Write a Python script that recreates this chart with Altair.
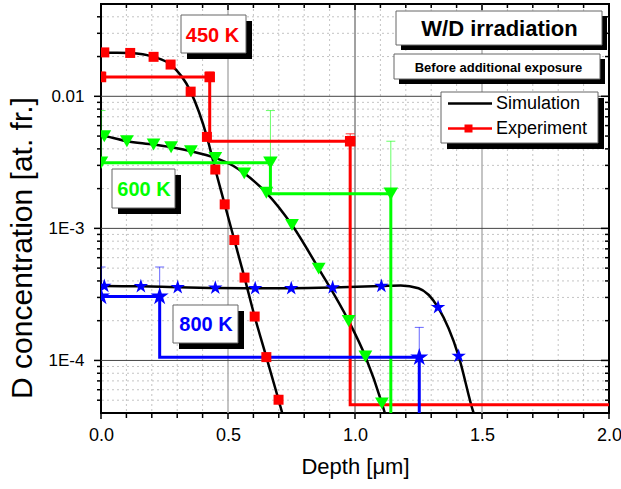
import altair as alt
import pandas as pd

FONT = "Liberation Sans, Arial, sans-serif"
W, H = 508, 409
PL, PT = 101, 4

# ---------------- data ----------------
# simulation curves (black lines)
sim450_x = [0.0, 0.013, 0.115, 0.207, 0.274, 0.353, 0.417, 0.45, 0.487, 0.525, 0.565, 0.605, 0.651, 0.699, 0.72]
sim450_y = [0.0218, 0.0215, 0.0213, 0.0199, 0.0174, 0.01085, 0.00493, 0.00279, 0.00152, 0.000816, 0.000424, 0.000215, 0.000106, 5.04e-5, 3.6e-5]
sim600_x = [0.0, 0.013, 0.102, 0.207, 0.276, 0.354, 0.45, 0.52, 0.564, 0.651, 0.752, 0.857, 0.975, 1.041, 1.106, 1.13]
sim600_y = [0.00500, 0.00498, 0.00457, 0.00431, 0.00411, 0.00384, 0.00342, 0.00298, 0.00261, 0.00186, 0.00106, 0.000496, 0.000199, 0.000107, 4.73e-5, 3.3e-5]
sim800_x = [0.0, 0.013, 0.157, 0.302, 0.45, 0.607, 0.749, 0.912, 1.104, 1.18, 1.25, 1.327, 1.408, 1.467, 1.48]
sim800_y = [0.000372, 0.000366, 0.000364, 0.000358, 0.000354, 0.000352, 0.000352, 0.000356, 0.000366, 0.000370, 0.000352, 0.000252, 0.000108, 4.0e-5, 3.4e-5]

# markers on simulation curves
mk450_x = [0.013, 0.115, 0.207, 0.274, 0.353, 0.417, 0.45, 0.487, 0.525, 0.565, 0.605, 0.651, 0.699]
mk450_y = [0.0215, 0.0213, 0.0199, 0.0174, 0.01085, 0.00493, 0.00279, 0.00152, 0.000816, 0.000424, 0.000215, 0.000106, 5.04e-5]
mk600_x = [0.013, 0.102, 0.207, 0.276, 0.354, 0.45, 0.564, 0.651, 0.752, 0.857, 0.975, 1.041, 1.106]
mk600_y = [0.00498, 0.00457, 0.00431, 0.00411, 0.00384, 0.00342, 0.00261, 0.00186, 0.00106, 0.000496, 0.000199, 0.000107, 4.73e-5]
mk800_x = [0.013, 0.157, 0.302, 0.45, 0.607, 0.749, 0.912, 1.104, 1.327, 1.408]
mk800_y = [0.000366, 0.000364, 0.000358, 0.000354, 0.000352, 0.000352, 0.000356, 0.000366, 0.000252, 0.000108]

# experiment step profiles
exp450_x = [0.0, 0.428, 0.428, 0.981, 0.981, 2.0]
exp450_y = [0.0140, 0.0140, 0.00457, 0.00457, 4.62e-5, 4.62e-5]
exp600_x = [0.0, 0.667, 0.667, 1.141, 1.141]
exp600_y = [0.00314, 0.00314, 0.00183, 0.00183, 2.0e-5]
exp800_x = [0.0, 0.231, 0.231, 1.253, 1.253]
exp800_y = [0.000305, 0.000305, 0.0001055, 0.0001055, 2.0e-5]

# experiment points and upper error bars
pt450_x = [0.0, 0.428, 0.981]
pt450_y = [0.0140, 0.0140, 0.00457]
pt450_e = [0.0153, 0.0153, 0.0052]
pt600_x = [0.0, 0.667, 1.141]
pt600_y = [0.00314, 0.00314, 0.00183]
pt600_e = [0.0078, 0.0078, 0.00457]
pt800_x = [0.0, 0.231, 1.253]
pt800_y = [0.000305, 0.000305, 0.0001055]
pt800_e = [0.00051, 0.00051, 0.000178]

# axes / grid
x_labels = [0.0, 0.5, 1.0, 1.5, 2.0]
x_minor = [0.1, 0.2, 0.3, 0.4, 0.6, 0.7, 0.8, 0.9, 1.1, 1.2, 1.3, 1.4, 1.6, 1.7, 1.8, 1.9]
y_major = [0.01, 0.001, 0.0001]
y_minor = [5e-5, 6e-5, 7e-5, 8e-5, 9e-5,
           2e-4, 3e-4, 4e-4, 5e-4, 6e-4, 7e-4, 8e-4, 9e-4,
           2e-3, 3e-3, 4e-3, 5e-3, 6e-3, 7e-3, 8e-3, 9e-3,
           2e-2, 3e-2, 4e-2]

RED, GREEN, BLUE = "#ff0000", "#00ff00", "#0000ff"
STAR = ("M0,-1L0.2245,-0.309L0.9511,-0.309L0.3633,0.118L0.5878,0.809L0,0.382"
        "L-0.5878,0.809L-0.3633,0.118L-0.9511,-0.309L-0.2245,-0.309Z")

# ---------------- scales ----------------
xscale = alt.Scale(domain=[0, 2], nice=False, zero=False, padding=0)
yscale = alt.Scale(type="log", domain=[4e-5, 0.05], nice=False, padding=0)
xaxis = alt.Axis(values=x_labels, format=".1f", labelFontSize=18, labelFont=FONT,
                 labelColor="black", ticks=False, domain=False, grid=False,
                 labelPadding=13, labelFlush=False, labelOverlap=False, title=None)
yaxis = alt.Axis(values=y_major,
                 labelExpr="datum.value > 0.005 ? '0.01' : (datum.value > 0.0005 ? '1E-3' : '1E-4')",
                 labelFontSize=17, labelFont=FONT, labelColor="black", ticks=False,
                 domain=False, grid=False, labelPadding=17, labelFlush=False, title=None)


def X(f="x"):
    return alt.X(f + ":Q", scale=xscale, axis=xaxis)


def Y(f="y"):
    return alt.Y(f + ":Q", scale=yscale, axis=yaxis)


def df(xs, ys):
    return pd.DataFrame({"x": xs, "y": ys, "i": list(range(len(xs)))})


layers = []

# grid
layers.append(alt.Chart(pd.DataFrame({"y": y_minor})).mark_rule(
    color="#c4c4c4", strokeWidth=1, strokeDash=[2, 3]).encode(y=Y()))
layers.append(alt.Chart(pd.DataFrame({"x": x_minor})).mark_rule(
    color="#c4c4c4", strokeWidth=1, strokeDash=[2, 3]).encode(x=X()))
layers.append(alt.Chart(pd.DataFrame({"x": [0.5, 1.5]})).mark_rule(
    color="#b0b0b0", strokeWidth=1.5).encode(x=X()))
layers.append(alt.Chart(pd.DataFrame({"x": [1.0]})).mark_rule(
    color="#444444", strokeWidth=1).encode(x=X()))
layers.append(alt.Chart(pd.DataFrame({"y": y_major})).mark_rule(
    color="#444444", strokeWidth=1).encode(y=Y()))

# ticks
ymaj = pd.DataFrame({"y": y_major})
ymin = pd.DataFrame({"y": y_minor})
layers.append(alt.Chart(ymaj).mark_rule(color="black", strokeWidth=1.5).encode(
    y=Y(), x=alt.value(-7), x2=alt.value(0)))
layers.append(alt.Chart(ymin).mark_rule(color="black", strokeWidth=1.5).encode(
    y=Y(), x=alt.value(-4), x2=alt.value(0)))
layers.append(alt.Chart(ymaj).mark_rule(color="black", strokeWidth=1.5).encode(
    y=Y(), x=alt.value(W - 8), x2=alt.value(W)))
layers.append(alt.Chart(ymin).mark_rule(color="black", strokeWidth=1.5).encode(
    y=Y(), x=alt.value(W - 4), x2=alt.value(W)))
xmaj = pd.DataFrame({"x": x_labels})
xmin = pd.DataFrame({"x": x_minor})
layers.append(alt.Chart(xmaj).mark_rule(color="black", strokeWidth=1.5).encode(
    x=X(), y=alt.value(H), y2=alt.value(H + 6)))
layers.append(alt.Chart(xmin).mark_rule(color="black", strokeWidth=1.5).encode(
    x=X(), y=alt.value(H), y2=alt.value(H + 5)))
layers.append(alt.Chart(xmaj).mark_rule(color="black", strokeWidth=1.5).encode(
    x=X(), y=alt.value(0), y2=alt.value(6)))
layers.append(alt.Chart(xmin).mark_rule(color="black", strokeWidth=1.5).encode(
    x=X(), y=alt.value(0), y2=alt.value(4)))

# error bars
for xs, ys, es, col, op in [(pt450_x, pt450_y, pt450_e, RED, 0.8),
                            (pt600_x, pt600_y, pt600_e, GREEN, 0.6),
                            (pt800_x, pt800_y, pt800_e, BLUE, 0.6)]:
    d = pd.DataFrame({"x": xs, "y": ys, "e": es})
    layers.append(alt.Chart(d).mark_rule(color=col, strokeWidth=1, opacity=op, clip=True).encode(
        x=X(), y=Y(), y2="e:Q"))
    layers.append(alt.Chart(d).mark_tick(color=col, orient="horizontal", size=9, thickness=1,
                                         opacity=op, clip=True).encode(x=X(), y=Y("e")))

# simulation curves
for xs, ys in [(sim450_x, sim450_y), (sim600_x, sim600_y), (sim800_x, sim800_y)]:
    layers.append(alt.Chart(df(xs, ys)).mark_line(
        color="black", strokeWidth=2.5, clip=True, interpolate="monotone").encode(
        x=X(), y=Y(), order="i:Q"))

# experiment steps
for xs, ys, col in [(exp450_x, exp450_y, RED), (exp600_x, exp600_y, GREEN), (exp800_x, exp800_y, BLUE)]:
    layers.append(alt.Chart(df(xs, ys)).mark_line(
        color=col, strokeWidth=3, clip=True).encode(x=X(), y=Y(), order="i:Q"))

# markers
layers.append(alt.Chart(df(mk450_x, mk450_y)).mark_point(
    shape="square", filled=True, size=100, color=RED, opacity=1, clip=True).encode(x=X(), y=Y()))
layers.append(alt.Chart(df(mk600_x, mk600_y)).mark_point(
    shape="triangle-down", filled=True, size=190, color=GREEN, opacity=1, clip=True).encode(x=X(), y=Y()))
layers.append(alt.Chart(df(mk800_x, mk800_y)).mark_point(
    shape=STAR, filled=True, size=230, color=BLUE, opacity=1, clip=True).encode(x=X(), y=Y()))
layers.append(alt.Chart(df(pt450_x, pt450_y)).mark_point(
    shape="square", filled=True, size=110, color=RED, opacity=1, clip=True).encode(x=X(), y=Y()))
layers.append(alt.Chart(df(pt600_x, pt600_y)).mark_point(
    shape="triangle-down", filled=True, size=210, color=GREEN, opacity=1, clip=True).encode(x=X(), y=Y()))
layers.append(alt.Chart(df(pt800_x, pt800_y)).mark_point(
    shape=STAR, filled=True, size=360, color=BLUE, opacity=1, clip=True).encode(x=X(), y=Y()))

# annotation boxes
one = pd.DataFrame({"k": [0]})


def box(x1, y1, x2, y2, sh=6):
    x1, x2, y1, y2 = x1 - PL, x2 - PL, y1 - PT, y2 - PT
    return [
        alt.Chart(one).mark_rect(color="black").encode(
            x=alt.value(x1 + sh), x2=alt.value(x2 + sh), y=alt.value(y1 + sh), y2=alt.value(y2 + sh)),
        alt.Chart(one).mark_rect(fill="white", stroke="#666666", strokeWidth=1).encode(
            x=alt.value(x1), x2=alt.value(x2), y=alt.value(y1), y2=alt.value(y2)),
    ]


def label(x, y, text, color="black", size=18, weight="bold", align="center", angle=0):
    return alt.Chart(one).mark_text(
        font=FONT, fontSize=size, fontWeight=weight, color=color, align=align,
        baseline="middle", angle=angle).encode(
        x=alt.value(x - PL), y=alt.value(y - PT), text=alt.value(text))


layers += box(181, 15, 246, 53)
layers.append(label(212.5, 36, "450 K", RED, 20))
layers += box(112, 169, 175, 208)
layers.append(label(144, 190, "600 K", GREEN, 20))
layers += box(173, 305, 238, 343)
layers.append(label(206, 325, "800 K", BLUE, 20))
layers += box(396, 11, 602, 45, 5)
layers.append(label(499.5, 28.5, "W/D irradiation", "black", 22))
layers += box(394, 54, 600, 79, 5)
layers.append(label(498.5, 68, "Before additional exposure", "black", 13))

# legend
layers += box(441, 92, 598, 143, 6)
layers.append(alt.Chart(one).mark_rule(color="black", strokeWidth=2.5).encode(
    x=alt.value(448 - PL), x2=alt.value(492 - PL), y=alt.value(103.5 - PT)))
layers.append(label(496, 104, "Simulation", "black", 18, "normal", "left"))
layers.append(alt.Chart(one).mark_rule(color=RED, strokeWidth=2.5).encode(
    x=alt.value(448 - PL), x2=alt.value(492 - PL), y=alt.value(128.5 - PT)))
layers.append(alt.Chart(one).mark_point(shape="square", filled=True, size=64, color=RED, opacity=1).encode(
    x=alt.value(468.5 - PL), y=alt.value(128.5 - PT)))
layers.append(label(496, 128.5, "Experiment", "black", 18, "normal", "left"))

# axis titles
layers.append(label(23, 248, "D concentration [at. fr.]", "black", 30, "normal", "center", 270))
layers.append(label(355.5, 467, "Depth [\u03bcm]", "black", 22, "normal", "center"))

chart = alt.layer(*layers).properties(
    width=W, height=H,
    padding={"left": PL, "top": PT, "right": 621 - PL - W, "bottom": 489 - PT - H},
    autosize=alt.AutoSizeParams(type="none"),
).configure_view(stroke="black", strokeWidth=2)

chart.save("out.html", embed_options={"renderer": "svg", "actions": False})
